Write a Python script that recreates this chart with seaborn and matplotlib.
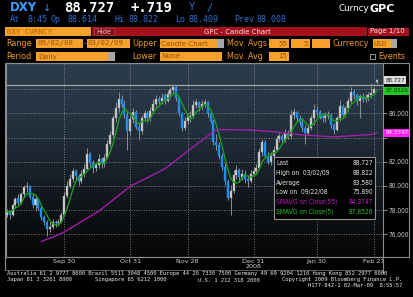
import numpy as np
import pandas as pd
import matplotlib
matplotlib.use("Agg")
import matplotlib.pyplot as plt
import seaborn as sns
from matplotlib.patches import Rectangle
from matplotlib.colors import LinearSegmentedColormap

# ---------------- data ----------------
start_date = "2008-09-02"
end_date = "2009-03-02"

opens = [77.6, 77.9, 77.6, 78.4, 79.0, 78.6, 79.3, 79.9, 80.0, 79.1,
         78.4, 78.9, 78.2, 77.4, 77.0, 76.4, 76.6, 77.0, 76.9, 77.0,
         77.6, 79.2, 80.0, 80.6, 81.2, 80.8, 80.4, 81.0, 81.4, 82.6,
         81.9, 81.5, 81.7, 82.2, 81.8, 82.3, 83.5, 84.2, 85.6, 86.4,
         87.2, 86.8, 85.9, 84.5, 85.5, 86.1, 84.9, 84.5, 85.6, 86.0,
         85.6, 86.2, 86.8, 87.2, 87.0, 87.5, 87.0, 87.6, 87.9, 88.2,
         87.3, 86.0, 84.8, 85.4, 85.7, 85.8, 86.7, 86.9, 86.5, 86.8,
         86.9, 86.0, 85.4, 83.6, 83.4, 82.5, 81.6, 80.4, 79.0, 79.6,
         80.9, 81.3, 80.7, 81.0, 80.6, 80.4, 81.0, 81.2, 81.5, 82.8,
         83.6, 82.5, 82.0, 82.5, 83.0, 83.9, 84.1, 83.8, 84.4, 84.1,
         85.9, 86.1, 85.6, 85.3, 84.8, 84.4, 84.8, 85.6, 86.3, 86.1,
         85.8, 85.6, 85.8, 85.9, 85.0, 84.6, 85.6, 86.6, 85.9, 86.4,
         87.0, 87.8, 87.5, 87.0, 87.4, 87.2, 87.3, 87.5, 87.7, 88.614]

highs = [78.1, 78.0, 78.6, 79.1, 79.3, 79.5, 80.1, 80.3, 80.1, 79.4,
         79.2, 79.0, 78.4, 77.6, 77.2, 77.0, 77.3, 77.2, 77.3, 77.8,
         79.5, 80.4, 81.0, 81.5, 81.4, 81.0, 81.3, 81.8, 83.1, 82.8,
         82.1, 82.0, 82.6, 82.4, 82.6, 83.8, 84.5, 85.9, 86.9, 87.8,
         87.5, 87.1, 86.2, 85.9, 86.4, 86.3, 85.2, 85.9, 86.3, 86.2,
         86.5, 87.2, 87.5, 87.4, 87.7, 87.7, 87.9, 88.2, 88.4, 88.3,
         87.4, 86.1, 85.7, 86.0, 86.2, 87.1, 87.2, 87.0, 87.1, 87.2,
         87.0, 86.2, 85.5, 84.3, 83.6, 82.7, 81.9, 80.6, 80.1, 81.3,
         81.7, 81.5, 81.4, 81.3, 80.9, 81.3, 81.6, 81.8, 83.1, 83.9,
         83.8, 82.8, 82.8, 83.3, 84.2, 84.4, 84.3, 84.7, 84.6, 86.3,
         86.4, 86.2, 85.9, 85.5, 85.0, 85.1, 85.9, 86.8, 86.6, 86.3,
         86.0, 86.1, 86.2, 86.0, 85.2, 85.8, 87.1, 86.8, 86.6, 87.3,
         88.2, 88.0, 87.7, 87.6, 87.7, 87.6, 87.8, 88.5, 88.2, 88.822]

lows = [77.4, 77.3, 77.5, 78.2, 78.4, 78.5, 79.1, 79.5, 78.9, 78.2,
        77.9, 78.0, 77.2, 76.8, 75.89, 76.2, 76.4, 76.6, 76.7, 76.9,
        77.5, 79.0, 79.8, 80.3, 80.5, 80.1, 80.2, 80.7, 81.2, 81.6,
        81.1, 81.2, 81.5, 81.5, 81.6, 82.2, 83.2, 84.0, 85.3, 86.1,
        86.5, 85.6, 83.0, 84.2, 85.2, 84.7, 83.8, 84.3, 85.4, 85.3,
        85.4, 86.0, 86.5, 86.6, 86.8, 86.8, 86.9, 87.3, 87.6, 87.0,
        85.8, 84.5, 84.6, 85.1, 85.3, 85.6, 86.4, 86.2, 86.3, 86.5,
        85.7, 85.2, 83.4, 83.0, 82.2, 81.3, 80.1, 78.8, 77.6, 79.4,
        80.6, 80.4, 80.5, 80.2, 79.9, 80.2, 80.8, 81.0, 81.4, 82.5,
        82.3, 81.8, 81.7, 82.3, 82.9, 83.6, 83.5, 83.6, 83.9, 83.9,
        85.5, 85.3, 85.0, 84.5, 83.5, 84.2, 84.6, 85.0, 85.8, 85.5,
        85.3, 85.3, 85.5, 84.8, 84.3, 84.5, 85.4, 85.6, 85.7, 86.2,
        86.8, 87.2, 86.7, 85.6, 86.9, 86.9, 87.0, 87.3, 87.5, 88.409]

closes = [77.9, 77.6, 78.4, 78.9, 78.6, 79.3, 79.9, 80.0, 79.1, 78.4,
          78.9, 78.2, 77.4, 77.0, 76.4, 76.6, 77.0, 76.9, 77.0, 77.6,
          79.2, 80.0, 80.6, 81.2, 80.8, 80.4, 81.0, 81.4, 82.6, 81.9,
          81.5, 81.7, 82.2, 81.8, 82.3, 83.5, 84.2, 85.6, 86.4, 87.2,
          86.8, 85.9, 84.5, 85.5, 86.1, 84.9, 84.5, 85.6, 86.0, 85.6,
          86.2, 86.8, 87.2, 87.0, 87.3, 87.0, 87.6, 87.9, 88.2, 87.3,
          86.0, 84.8, 85.4, 85.7, 85.8, 86.7, 86.9, 86.5, 86.8, 86.9,
          86.0, 85.4, 83.6, 83.4, 82.5, 81.6, 80.4, 79.0, 79.6, 80.9,
          81.3, 80.7, 81.0, 80.6, 80.4, 81.0, 81.2, 81.5, 82.8, 83.6,
          82.5, 82.0, 82.5, 83.0, 83.9, 84.1, 83.8, 84.4, 84.1, 85.9,
          86.1, 85.6, 85.3, 84.8, 84.4, 84.8, 85.6, 86.3, 86.1, 85.8,
          85.6, 85.8, 85.9, 85.0, 84.6, 85.6, 86.6, 85.9, 86.4, 87.0,
          87.8, 87.5, 87.0, 87.4, 87.2, 87.3, 87.5, 87.7, 88.008, 88.727]

# 55-day simple moving average
sma55_dates = ["2008-09-18", "2008-09-29", "2008-10-16", "2008-10-31", "2008-11-18",
               "2008-12-01", "2008-12-09", "2008-12-11", "2008-12-15", "2008-12-29",
               "2009-01-08", "2009-01-23", "2009-02-09", "2009-02-26", "2009-03-02"]
sma55_values = [75.4, 76.05, 77.9, 79.96, 81.4, 83.05, 84.13, 84.49, 84.66, 84.63,
                84.5, 84.21, 84.05, 84.25, 84.3747]

hline_value = 88.33
y_ticks = [76, 78, 80, 82, 84, 86, 88]
y_hidden = [84, 88]          # covered by the value boxes in the reference
x_tick_dates = ["2008-09-30", "2008-10-31", "2008-11-28", "2008-12-31", "2009-01-30", "2009-02-27"]
x_tick_labels = ["Sep 30", "Oct 31", "Nov 28", "Dec 31\n2008", "Jan 30", "Feb 27"]

box_last = ("Last", "88.727")
box_high = ("High on  03/02/09", "88.822")
box_avg = ("Average", "83.580")
box_low = ("Low on  09/22/08", "75.890")
box_sma55 = ("SMAVG on Close(55)", "84.3747")
box_sma5 = ("SMAVG on Close(5)", "87.8526")

# ---------------- style ----------------
sns.set_style("dark")
MONO = ["DejaVu Sans Mono"]
plt.rcParams["font.family"] = ["DejaVu Sans"]
COND = dict(family=["DejaVu Sans"], stretch="condensed")

W, H = 414, 297
fig = plt.figure(figsize=(W / 100, H / 100), dpi=100, facecolor="black")

def fx(x):
    return x / W

def fy(y):
    return 1 - y / H

ax = fig.add_axes([fx(6), fy(257), (383 - 6) / W, (257 - 63) / H])
ax.set_facecolor("black")

dates = pd.bdate_range(start_date, end_date)
n = len(closes)
xpos = np.arange(n)
o = np.array(opens); h = np.array(highs); l = np.array(lows); c = np.array(closes)

xl0, xl1 = -0.28, 131.08
yl0, yl1 = 74.12, 90.16

bg = LinearSegmentedColormap.from_list(
    "bg", [(0, "#2c3d4b"), (0.3, "#243240"), (0.55, "#18212a"),
           (0.8, "#0d1013"), (1, "#060606")])
grad = np.linspace(0, 1, 256).reshape(-1, 1)
ax.imshow(grad, cmap=bg, aspect="auto", extent=[xl0, xl1, yl0, yl1],
          origin="upper", zorder=0)

ax.axhline(hline_value, color="#a8a8a8", lw=0.9, zorder=2)

# candles
up = c >= o
ax.vlines(xpos, l, h, color="#8e8e8e", lw=0.7, zorder=3)
body = np.maximum(np.abs(c - o), 0.07)
bottom = np.minimum(o, c)
ax.bar(xpos[up], body[up], bottom=bottom[up], width=0.7, color="#cfcfcf",
       edgecolor="#a0a0a0", linewidth=0.3, zorder=4)
ax.bar(xpos[~up], body[~up], bottom=bottom[~up], width=0.7, color="#1e8ef0",
       edgecolor="#1e8ef0", linewidth=0.3, zorder=4)

# moving averages
sma5 = pd.Series(closes).rolling(5, min_periods=1).mean()
sns.lineplot(x=xpos, y=sma5.values, color="#1a9c1a", lw=1.0, ax=ax, zorder=5)
sma55_pos = dates.get_indexer(pd.to_datetime(sma55_dates))
sns.lineplot(x=sma55_pos, y=sma55_values, color="#a21fa8", lw=1.0, ax=ax, zorder=5)

ax.set_xlim(xl0, xl1)
ax.set_ylim(yl0, yl1)

xt = dates.get_indexer(pd.to_datetime(x_tick_dates))
ax.set_xticks(xt)
ax.set_xticklabels(x_tick_labels, fontsize=4.6, color="#d4d4d4", linespacing=1.05)
ax.set_yticks(y_ticks)
ax.yaxis.tick_right()
ax.set_yticklabels(["" if v in y_hidden else f"{v:.3f}" for v in y_ticks],
                   fontsize=4.7, color="#c8c8c8", **COND)
ax.tick_params(axis="y", length=3, width=0.6, color="#a0a0a0", pad=1.2, right=True, left=False)
ax.tick_params(axis="x", length=0, pad=1.2)
ax.set_xlabel(""); ax.set_ylabel("")
ax.grid(True, color="#9a9a9a", ls=(0, (1, 2)), lw=0.6)
ax.set_axisbelow(True)
for s in ax.spines.values():
    s.set_color("#8c8c8c"); s.set_linewidth(0.8); s.set_visible(True)

# value boxes on the right axis
for val, txt_, fc, tc in [(closes[-1], "88.727", "#dcdcdc", "#202020"),
                          (sma5.values[-1], "87.8526", "#1ec81e", "#0a3a0a"),
                          (sma55_values[-1], "84.3747", "#ff22ff", "#ffffff")]:
    ax.text(1.006, val, txt_, transform=ax.get_yaxis_transform(), ha="left", va="center",
            fontsize=4.5, color=tc, clip_on=False, zorder=10,
            bbox=dict(boxstyle="square,pad=0.25", fc=fc, ec="none"), **COND)

# ---------------- overlay (terminal furniture) ----------------
ov = fig.add_axes([0, 0, 1, 1], zorder=10)
ov.set_xlim(0, W); ov.set_ylim(H, 0); ov.axis("off"); ov.patch.set_visible(False)

ORANGE = "#f29a1c"; BOXF = "#f6a12c"; BOXT = "#9a5200"; BLUE = "#2f6fd4"

def txt(x, y, s, **kw):
    kw.setdefault("va", "center")
    ov.text(x, y, s, **kw)

def box(x, y, w, hh, fc, ec="none", lw=0.6):
    ov.add_patch(Rectangle((x, y), w, hh, fc=fc, ec=ec, lw=lw))

# row 1
txt(10, 7.5, "DXY", color="#3aa0ff", fontsize=8.5, fontweight="bold")
txt(43, 7.5, "\u2193", color="#3a8ee8", fontsize=7)
txt(64, 7.5, "88.727", color="white", fontsize=10, fontweight="bold", family=MONO)
txt(131, 7.5, "+.719", color="white", fontsize=10, fontweight="bold", family=MONO)
txt(189, 7.5, "Y", color=BLUE, fontsize=7.5, family=MONO)
txt(206, 7.5, "/", color=BLUE, fontsize=7.5, family=MONO)
txt(339, 8.5, "Curncy", color="white", fontsize=6.3)
txt(370, 8.5, "GPC", color="white", fontsize=8, fontweight="bold")
# row 2
for x, s in [(10, "At"), (28, "8:45"), (51, "Op"), (68, "88.614"), (115, "Hi"),
             (129, "88.822"), (175, "Lo"), (189, "88.409"), (234, "Prev"), (257, "88.008")]:
    txt(x, 19, s, color=BLUE, fontsize=6.0, family=MONO)
# row 3
box(5, 27, 86, 9, BOXF)
txt(7, 31.5, "DXY CURNCY", color="#b06000", fontsize=5.3, family=MONO)
box(92, 27, 275, 9, "#a3111c")
box(94, 27.8, 20, 7.5, "#7c0a12", ec="#c65060", lw=0.4)
txt(96, 31.5, "Hide", color="#f2c4c4", fontsize=4.8)
txt(204, 31.5, "GPC - Candle Chart", color="#f4e2e2", fontsize=5.0)
box(367, 27, 42, 9, "#a3111c", ec="black", lw=0.6)
txt(370, 31.5, "Page 1/10", color="#f4e2e2", fontsize=5.0)
# row 4
yr = 38.5; yc = 43.5
txt(6, yc, "Range", color=ORANGE, fontsize=5.8)
box(36, yr, 47, 9.5, BOXF); txt(38, yc, "09/02/08", color=BOXT, fontsize=5.3, family=MONO)
txt(84, yc, "-", color=ORANGE, fontsize=5.5)
box(87, yr, 43, 9.5, BOXF); txt(88, yc, "03/02/09", color=BOXT, fontsize=5.3, family=MONO)
txt(132, yc, "Upper", color=ORANGE, fontsize=5.8)
box(160, yr, 57, 9.5, BOXF); txt(161, yc, "Candle Chart", color=BOXT, fontsize=5.2)
box(217, yr, 7, 9.5, "#a8a8a8")
txt(227, yc, "Mov. Avgs", color=ORANGE, fontsize=5.8)
box(269, yr, 20, 9.5, BOXF); txt(287, yc, "55", color=BOXT, fontsize=5.3, ha="right", family=MONO)
box(291, yr, 19, 9.5, BOXF); txt(308, yc, "5", color=BOXT, fontsize=5.3, ha="right", family=MONO)
box(312, yr, 18, 9.5, BOXF)
txt(333, yc, "Currency", color=ORANGE, fontsize=5.8)
box(373, yr, 18, 9.5, BOXF); box(391, yr, 6, 9.5, "#a8a8a8")
txt(374, yc, "USD", color=BOXT, fontsize=5.3, family=MONO)
# row 5
yr = 51.5; yc = 56.5
txt(6, yc, "Period", color=ORANGE, fontsize=5.8)
box(36, yr, 72, 9.5, BOXF); box(108, yr, 7, 9.5, "#a8a8a8")
txt(38, yc, "Daily", color=BOXT, fontsize=5.3)
txt(132, yc, "Lower", color=ORANGE, fontsize=5.8)
box(160, yr, 62, 9.5, BOXF); txt(161, yc, "None", color=BOXT, fontsize=5.3)
txt(227, yc, "Mov. Avg", color=ORANGE, fontsize=5.8)
box(269, yr, 20, 9.5, BOXF); txt(287, yc, "15", color=BOXT, fontsize=5.3, ha="right", family=MONO)
box(370, 54, 5, 5, "none", ec="#a8a8a8", lw=0.6)
txt(378, yc, "Events", color=ORANGE, fontsize=5.8)

# chart frame
ov.add_patch(Rectangle((5, 62.5), 404, 194.5, fill=False, ec="#8c8c8c", lw=0.8))
ov.plot([5, 5], [257, 270], color="#8c8c8c", lw=0.8)
ov.plot([5, 383], [270, 270], color="#6c6c6c", lw=0.6)
ov.plot([383, 383], [257, 273], color="#8c8c8c", lw=0.8)

# info box
ov.add_patch(Rectangle((274, 156.5), 101, 62, fc="black", ec="#a0a0a0", lw=0.8, alpha=0.92))
rows = [(box_last, "#e4e4e4"), (box_high, "#e4e4e4"), (box_avg, "#e4e4e4"),
        (box_low, "#e4e4e4"), (box_sma55, "#c21fc2"), (box_sma5, "#22c222")]
for k, ((lab, val), col) in enumerate(rows):
    yy = 163 + k * 9.8
    txt(276, yy, lab, color=col, fontsize=4.8, **COND)
    txt(373, yy, val, color=col, fontsize=4.8, ha="right", **COND)

# footer
FT = dict(color="#e8e8e8", fontsize=3.95, family=MONO)
txt(7, 274, "Australia 61 2 9777 8600 Brazil 5511 3048 4500 Europe 44 20 7330 7500 "
            "Germany 49 69 9204 1210 Hong Kong 852 2977 6000", **FT)
txt(7, 280, "Japan 81 3 3201 8900", **FT)
txt(95, 280, "Singapore 65 6212 1000", **FT)
txt(198, 280, "U.S. 1 212 318 2000", **FT)
txt(402, 280, "Copyright 2009 Bloomberg Finance L.P.", ha="right", **FT)
txt(402, 285.5, "H177-842-1 02-Mar-09  8:55:57", ha="right", **FT)

fig.savefig("out.png", dpi=100, facecolor="black")
